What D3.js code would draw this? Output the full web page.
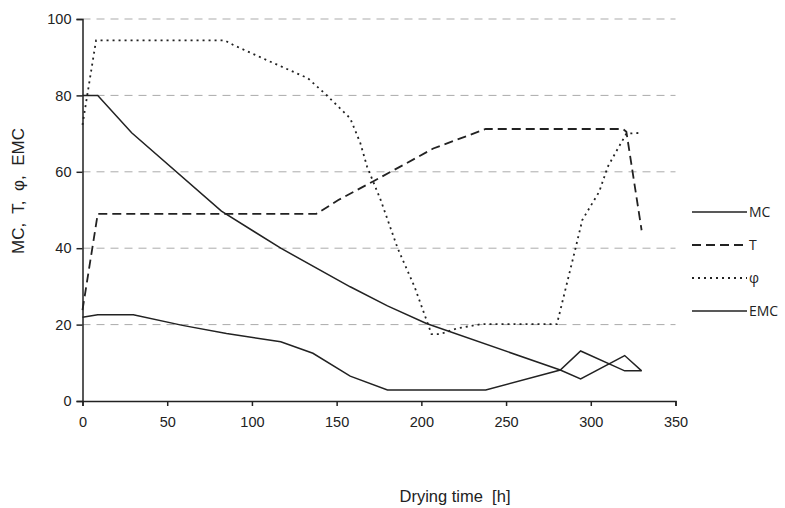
<!DOCTYPE html>
<html>
<head>
<meta charset="utf-8">
<script src="https://cdn.jsdelivr.net/npm/d3@7"></script>
<style>
  html, body { margin: 0; padding: 0; background: #fff; }
  svg { display: block; }
  text { font-family: "Liberation Sans", Arial, sans-serif; fill: #222; }
</style>
</head>
<body>
<svg id="chart" width="785" height="508"></svg>
<script>
// ---- data ----
const mcT  = [0, 9, 29, 82, 117, 158, 180, 203, 282, 294, 320, 330];
const mcV  = [80, 80, 70.2, 49.7, 40, 29.9, 24.9, 20.3, 8.1, 5.8, 11.9, 7.9];

const tT   = [0, 9, 138, 151, 172, 191, 207, 238, 319, 321, 330];
const tV   = [23.8, 49, 49, 52.6, 57.6, 62.2, 66.1, 71.2, 71.2, 70.5, 44.7];

const phiT = [0, 8, 84, 89, 110, 133, 144, 158, 164, 168, 176, 186, 196, 206, 211, 221, 235, 280, 291, 295, 305, 310, 315, 321, 330];
const phiV = [72.3, 94.4, 94.4, 93.2, 89, 84.5, 80.1, 74, 67.5, 61.3, 52.6, 40, 29.9, 17.5, 17.5, 19, 20.1, 20.1, 40, 47.4, 54.8, 61.3, 65.3, 70, 70.2];

const emcT = [0, 9, 30, 59, 85, 117, 136, 158, 180, 238, 282, 294, 320, 330];
const emcV = [21.9, 22.6, 22.6, 19.8, 17.7, 15.5, 12.5, 6.5, 2.9, 2.9, 8.1, 13.1, 7.9, 7.9];

const xTicks = [0, 50, 100, 150, 200, 250, 300, 350];
const yTicks = [0, 20, 40, 60, 80, 100];
const seriesNames = ["MC", "T", "φ", "EMC"];

// ---- layout ----
const svg = d3.select("#chart");
const pL = 82.5, pR = 675.5, pT = 19, pB = 401;
const x = d3.scaleLinear().domain([0, 350]).range([pL, pR]);
const y = d3.scaleLinear().domain([0, 100]).range([pB, pT]);

// grid
svg.append("g").selectAll("line").data(yTicks.filter(d => d > 0)).join("line")
  .attr("x1", pL).attr("x2", pR)
  .attr("y1", d => y(d)).attr("y2", d => y(d))
  .attr("stroke", "#ababab").attr("stroke-width", 1)
  .attr("stroke-dasharray", "8,6");

// axes
const xAxis = d3.axisBottom(x).tickValues(xTicks).tickSize(5).tickPadding(11).tickFormat(d3.format("d"));
const gx = svg.append("g").attr("transform", `translate(0,${pB})`).call(xAxis);
gx.select(".domain").attr("stroke", "#222").attr("stroke-width", 1.5);
gx.selectAll(".tick line").attr("stroke", "#222").attr("stroke-width", 1.5);
gx.selectAll(".tick text").attr("font-size", 14.5).attr("fill", "#222")
  .style("font-family", "'Liberation Sans', Arial, sans-serif");

const yAxis = d3.axisLeft(y).tickValues(yTicks).tickSize(6).tickPadding(5).tickFormat(d3.format("d"));
const gy = svg.append("g").attr("transform", `translate(${pL},0)`).call(yAxis);
gy.select(".domain").attr("stroke", "#222").attr("stroke-width", 1.5);
gy.selectAll(".tick line").attr("stroke", "#222").attr("stroke-width", 1.5);
gy.selectAll(".tick text").attr("font-size", 14.5).attr("fill", "#222")
  .style("font-family", "'Liberation Sans', Arial, sans-serif");

// series
const styles = {
  "MC":  { dash: null,  width: 1.5 },
  "T":   { dash: "9,5", width: 1.8 },
  "φ":   { dash: "2,4", width: 1.8 },
  "EMC": { dash: null,  width: 1.5 }
};
const data = {
  "MC":  mcT.map((t, i) => [t, mcV[i]]),
  "T":   tT.map((t, i) => [t, tV[i]]),
  "φ":   phiT.map((t, i) => [t, phiV[i]]),
  "EMC": emcT.map((t, i) => [t, emcV[i]])
};
const line = d3.line().x(d => x(d[0])).y(d => y(d[1]));
seriesNames.forEach(name => {
  svg.append("path").datum(data[name])
    .attr("d", line)
    .attr("fill", "none")
    .attr("stroke", "#222")
    .attr("stroke-width", styles[name].width)
    .attr("stroke-linejoin", "miter")
    .attr("stroke-dasharray", styles[name].dash);
});

// legend
const legY = d3.scalePoint().domain(seriesNames).range([212, 311]);
const leg = svg.append("g");
seriesNames.forEach(name => {
  leg.append("line")
    .attr("x1", 692).attr("x2", 747)
    .attr("y1", legY(name)).attr("y2", legY(name))
    .attr("stroke", "#222").attr("stroke-width", styles[name].width)
    .attr("stroke-dasharray", styles[name].dash);
  leg.append("text")
    .attr("x", 749).attr("y", legY(name)).attr("dy", "0.36em")
    .attr("font-size", 14)
    .style("font-family", "'Open Sans', 'Liberation Sans', sans-serif")
    .text(name);
});

// axis titles
svg.append("text")
  .attr("transform", `translate(24,191) rotate(-90)`)
  .attr("text-anchor", "middle")
  .attr("font-size", 17)
  .style("white-space", "pre")
  .text("MC,  T,  φ,  EMC");

svg.append("text")
  .attr("x", 455).attr("y", 502)
  .attr("text-anchor", "middle")
  .attr("font-size", 16.5)
  .style("white-space", "pre")
  .text("Drying time  [h]");
</script>
</body>
</html>
